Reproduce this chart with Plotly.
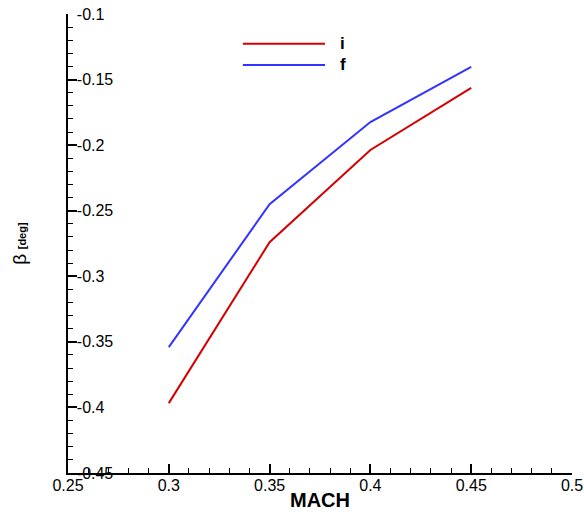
import plotly.graph_objects as go

mach = [0.3, 0.35, 0.4, 0.45]
beta_i = [-0.3967, -0.274, -0.2037, -0.1564]
beta_f = [-0.354, -0.245, -0.1824, -0.1404]
series_names = ["i", "f"]
series_colors = ["#d40000", "#3333ff"]

x_tickvals = [0.25, 0.3, 0.35, 0.4, 0.45, 0.5]
x_ticktext = ["0.25", "0.3", "0.35", "0.4", "0.45", "0.5"]
y_tickvals = [-0.45, -0.4, -0.35, -0.3, -0.25, -0.2, -0.15, -0.1]
y_ticktext = ["-0.45", "-0.4", "-0.35", "-0.3", "-0.25", "-0.2", "-0.15", "-0.1"]

FONT = "Liberation Sans, Arial, sans-serif"

fig = go.Figure()
for name, ys, col in zip(series_names, [beta_i, beta_f], series_colors):
    fig.add_trace(go.Scatter(x=mach, y=ys, mode="lines", name=name,
                             line=dict(color=col, width=2), showlegend=False))

# manual legend (line samples + labels)
leg_y = [0.935, 0.889]
for name, col, ly in zip(series_names, series_colors, leg_y):
    fig.add_shape(type="line", xref="paper", yref="paper",
                  x0=0.347, x1=0.510, y0=ly, y1=ly,
                  line=dict(color=col, width=2))
    fig.add_annotation(xref="paper", yref="paper", x=0.535, y=ly,
                       text="<b>%s</b>" % name, showarrow=False,
                       xanchor="left", yanchor="middle",
                       font=dict(family=FONT, size=17, color="black"))

axis_common = dict(
    showgrid=False, zeroline=False, showline=True, linecolor="black",
    linewidth=2, ticks="inside", ticklen=9, tickwidth=2, tickcolor="black",
    tickfont=dict(family=FONT, size=16, color="black"),
    minor=dict(ticks="inside", ticklen=5, tickwidth=1, tickcolor="black",
               dtick=0.01, showgrid=False),
    mirror=False, automargin=False, tickmode="array",
)

fig.update_xaxes(range=[0.25, 0.5], tickvals=x_tickvals, ticktext=x_ticktext,
                 ticklabelstandoff=-3,
                 title=dict(text="<b>MACH</b>",
                            font=dict(family=FONT, size=20, color="black"),
                            standoff=0),
                 **axis_common)
fig.update_yaxes(range=[-0.45, -0.1], tickvals=y_tickvals, ticktext=y_ticktext,
                 ticklabelposition="inside", ticklabeloverflow="allow",
                 title=dict(text="<span style='font-size:19px'>β</span> <b><span style='font-size:11px'>[deg]</span></b>",
                            font=dict(family=FONT, size=16, color="black"),
                            standoff=46),
                 **axis_common)

fig.update_layout(
    width=584, height=516,
    margin=dict(l=68, r=12, t=14, b=43),
    plot_bgcolor="white", paper_bgcolor="white",
    font=dict(family=FONT),
)

fig.write_html("out.html")
